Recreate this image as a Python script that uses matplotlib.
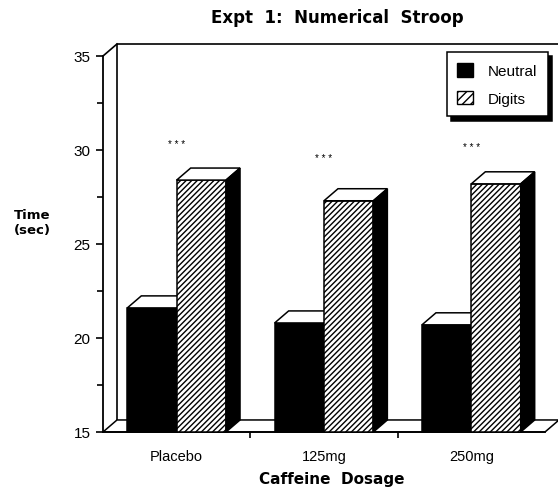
import matplotlib.pyplot as plt
from matplotlib.patches import Rectangle, Polygon
from matplotlib.patches import Patch

plt.rcParams['font.family'] = ['Liberation Sans', 'DejaVu Sans']
plt.rcParams['hatch.linewidth'] = 1.0

# data
categories = ['Placebo', '125mg', '250mg']
neutral = [21.6, 20.8, 20.7]
digits = [28.4, 27.3, 28.2]
star_y = [30.3, 29.55, 30.15]   # where the "***" marks sit
series = ['Neutral', 'Digits']

base = 15
bar_w = 0.335
dx, dy = 0.095, 0.64   # fake 3d depth

fig = plt.figure(figsize=(5.58, 4.89), dpi=100)
ax = fig.add_axes([103 / 558, 56 / 489, 442 / 558, 376 / 489])
ax.set_xlim(0, 3)
ax.set_ylim(15, 35)

ax.spines['top'].set_visible(False)
ax.spines['right'].set_visible(False)
ax.spines['left'].set_linewidth(1.3)
ax.spines['bottom'].set_linewidth(1.3)


def poly(pts, fc, z, hatch=None):
    p = Polygon(pts, closed=True, facecolor=fc, edgecolor='black', lw=1.1,
                hatch=hatch, zorder=z, clip_on=False)
    ax.add_patch(p)


# back wall + floor
ax.plot([0, dx], [35, 35 + dy], color='black', lw=1.2, clip_on=False, zorder=1)
ax.plot([dx, dx, 3 + dx, 3 + dx], [base + dy, 35 + dy, 35 + dy, base + dy],
        color='black', lw=1.2, clip_on=False, zorder=1)
poly([(0, base), (3, base), (3 + dx, base + dy), (dx, base + dy)], 'white', 2)


def draw_bar(x0, v, face, hatch, z):
    x1 = x0 + bar_w
    front = Rectangle((x0, base), bar_w, v - base, facecolor=face, edgecolor='black',
                      lw=1.1, hatch=hatch, zorder=z, clip_on=False)
    ax.add_patch(front)
    poly([(x0, v), (x1, v), (x1 + dx, v + dy), (x0 + dx, v + dy)], 'white', z)
    poly([(x1, base), (x1 + dx, base + dy), (x1 + dx, v + dy), (x1, v)], 'black', z)


for i in range(len(categories)):
    c = i + 0.5
    draw_bar(c - bar_w, neutral[i], 'black', None, 3 + 2 * i)
    draw_bar(c, digits[i], 'white', '//////', 4 + 2 * i)
    ax.text(c, star_y[i], '* * *', ha='center', va='center', fontsize=7, zorder=10)

# ticks
ax.set_yticks([15, 20, 25, 30, 35])
ax.set_yticks([17.5, 22.5, 27.5, 32.5], minor=True)
ax.tick_params(axis='y', which='major', direction='out', length=5, width=1.2,
               labelsize=11, pad=4)
ax.tick_params(axis='y', which='minor', direction='out', length=4, width=1.2)
ax.set_xticks([1, 2])
ax.set_xticklabels([])
ax.set_xticks([0.5, 1.5, 2.5], minor=True)
ax.set_xticklabels(categories, minor=True)
ax.tick_params(axis='x', which='major', direction='out', length=4, width=1.2)
ax.tick_params(axis='x', which='minor', length=0, labelsize=10.5, pad=12)

# titles
bold = dict(family=['DejaVu Sans'], fontweight='bold', ha='center', va='center')
fig.text(337 / 558, 1 - 18 / 489, 'Expt  1:  Numerical  Stroop', fontsize=12, **bold)
fig.text(32 / 558, 1 - 223 / 489, 'Time\n(sec)', fontsize=9.5, linespacing=1.2, **bold)
fig.text(332 / 558, 1 - 480 / 489, 'Caffeine  Dosage', fontsize=11, **bold)

# legend
handles = [Patch(facecolor='black', edgecolor='black'),
           Patch(facecolor='white', edgecolor='black', hatch='////')]
leg = ax.legend(handles, series, loc='upper right', bbox_to_anchor=(1.007, 1.01),
                borderaxespad=0, fancybox=False, framealpha=1, edgecolor='black',
                handlelength=1.0, handleheight=1.0, labelspacing=0.83, fontsize=11,
                handletextpad=1.0, borderpad=0.7,
                shadow={'ox': 3, 'oy': -3, 'color': 'black', 'alpha': 1})
leg.get_frame().set_linewidth(1.1)
leg.set_zorder(20)

fig.savefig('out.png', dpi=100)
